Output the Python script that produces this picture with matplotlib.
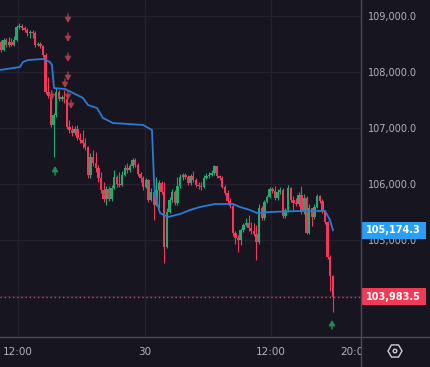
import numpy as np
import matplotlib
matplotlib.use("Agg")
import matplotlib.pyplot as plt
from matplotlib.lines import Line2D
from matplotlib.patches import Rectangle, RegularPolygon, Circle
import matplotlib.transforms as mtrans

BG = '#17151f'
GRID = '#24222d'
AXLINE = '#4b4a55'
TXT = '#b4b4bd'
UP = '#22ab6e'
DOWN = '#f2385a'

# 15 min candles, 29th 10:15 -> 30th 17:45 (hours since 29th 00:00)
first_open = 108536
close = [108393, 108571, 108482, 108536, 108482, 108571, 108804, 108821, 108786, 108750,
         108696, 108714, 108696, 108482, 108500, 108464, 108304, 107643, 107571, 107054,
         107232, 107643, 107518, 107554, 107518, 107018, 106964, 106911, 106982, 106821,
         106786, 106732, 106661, 106161, 106482, 106375, 106286, 106107, 105893, 105732,
         105911, 105732, 105929, 106125, 106000, 105982, 106161, 106286, 106250, 106321,
         106429, 106339, 106179, 106107, 105946, 106071, 105714, 105857, 105625, 105893,
         106018, 105857, 104875, 105500, 105714, 105857, 105661, 105964, 106125, 106161,
         106125, 106018, 106143, 106071, 105982, 105964, 105946, 106107, 106143, 106161,
         106196, 106321, 106143, 106107, 105946, 105839, 105696, 105607, 105125, 105036,
         105000, 105179, 105268, 105304, 105214, 105161, 105107, 104964, 105571, 105393,
         105679, 105768, 105911, 105875, 105750, 105857, 105893, 105429, 105536, 105929,
         105714, 105661, 105643, 105804, 105500, 105750, 105125, 105571, 105411, 105589,
         105786, 105696, 105518, 105321, 104696, 104357, 103983.5]
high = [108571, 108607, 108607, 108625, 108607, 108643, 108839, 108875, 108857, 108821,
        108786, 108750, 108750, 108732, 108536, 108536, 108482, 108339, 107911, 107679,
        107268, 107714, 107679, 107589, 107679, 107536, 107143, 107054, 107036, 107054,
        106911, 106964, 106821, 106679, 106554, 106607, 106571, 106339, 106214, 106036,
        105964, 105964, 105982, 106250, 106161, 106214, 106232, 106339, 106375, 106357,
        106464, 106464, 106375, 106214, 106143, 106107, 106089, 105929, 105893, 106125,
        106071, 106054, 106036, 105571, 105768, 105911, 105893, 106125, 106179, 106196,
        106196, 106161, 106179, 106232, 106107, 106036, 106036, 106161, 106196, 106214,
        106250, 106339, 106321, 106161, 106143, 105982, 105893, 105750, 105661, 105161,
        105089, 105214, 105304, 105393, 105446, 105321, 105304, 105268, 105643, 105607,
        105714, 105804, 105946, 105946, 105964, 105911, 105946, 105929, 105571, 105982,
        105946, 105786, 105750, 105857, 105964, 105821, 105786, 105643, 105571, 105643,
        105821, 105804, 105732, 105536, 105339, 104732, 104375]
low = [108357, 108375, 108446, 108446, 108464, 108464, 108554, 108768, 108750, 108714,
       108643, 108607, 108607, 108446, 108464, 108429, 108268, 107607, 107536, 107018,
       106482, 107196, 107482, 107482, 107446, 106982, 106911, 106857, 106875, 106786,
       106732, 106643, 106607, 106107, 106107, 106321, 106214, 106036, 105839, 105679,
       105625, 105696, 105696, 105911, 105946, 105946, 105964, 106143, 106196, 106214,
       106286, 106304, 106143, 106036, 105893, 105929, 105679, 105696, 105357, 105607,
       105571, 105821, 104589, 104857, 105482, 105679, 105625, 105625, 105929, 106071,
       106089, 105982, 105982, 106036, 105946, 105911, 105893, 105929, 106089, 106107,
       106143, 106161, 106107, 106071, 105929, 105804, 105661, 105571, 105071, 104929,
       104786, 104911, 105143, 105250, 105161, 105107, 105071, 104643, 104929, 105357,
       105357, 105661, 105750, 105839, 105714, 105714, 105821, 105393, 105393, 105500,
       105679, 105536, 105607, 105607, 105464, 105464, 105107, 105107, 105250, 105375,
       105571, 105661, 105482, 105286, 104661, 104089, 103714]
opens = [first_open] + close[:-1]
n = len(close)
t = 10.25 + 0.125 + 0.25 * np.arange(n)

# blue average line
avg_t = [10.29, 12.19, 12.47, 12.95, 14.37, 15.03, 15.22, 15.41, 16.46, 17.22, 18.17,
         18.64, 19.49, 20.06, 21.01, 23.86, 24.71, 24.9, 25.0, 25.47, 26.23, 27.37,
         28.32, 29.27, 30.69, 32.4, 33.06, 34.01, 34.67, 35.91, 38.75, 41.13, 41.6, 41.88]
avg_p = [108036, 108089, 108179, 108214, 108232, 108179, 108125, 107714, 107696, 107625,
         107536, 107411, 107357, 107179, 107089, 107054, 106964, 106071, 105804, 105482,
         105411, 105464, 105536, 105589, 105643, 105643, 105589, 105536, 105482, 105500,
         105518, 105518, 105357, 105174.3]

sell_t = [16.74, 16.74, 16.74, 16.74, 16.46, 16.74, 17.03, 15.22]
sell_p = [108875, 108536, 108179, 107839, 107714, 107500, 107339, 107500]
buy_t = [15.51, 41.79]
buy_p = [106321, 103571]

last_price = 103983.5
avg_last = 105174.3

W, H = 431, 367
AX_R, AX_B = 361, 337
fig = plt.figure(figsize=(W / 100, H / 100), dpi=100, facecolor=BG)
ax = fig.add_axes([0, (H - AX_B) / H, AX_R / W, AX_B / H], facecolor=BG)

ax.set_xlim(10.29, 44.54)
ax.set_ylim(103267.9, 109285.7)

# grid (104,000 sits under the last price tag, so no label there)
ax.set_xticks([12, 24, 36])
ax.set_yticks(range(105000, 109001, 1000))
ax.axhline(104000, color=GRID, lw=1, zorder=0)
ax.grid(True, color=GRID, lw=1)
ax.set_axisbelow(True)
ax.tick_params(axis='x', length=0, labelbottom=False)
ax.yaxis.tick_right()
ax.yaxis.set_major_formatter(plt.FuncFormatter(lambda v, p: f'{v:,.1f}'))
ax.tick_params(axis='y', length=0, pad=5, labelsize=7, labelcolor=TXT)
for s in ax.spines.values():
    s.set_visible(False)

# candles
o = np.array(opens, float)
c = np.array(close, float)
hi = np.array(high, float)
lo = np.array(low, float)
cols = np.where(c >= o, UP, DOWN)
ax.vlines(t, lo, hi, colors=cols, lw=0.8, zorder=3)
body_lo = np.minimum(o, c)
body_h = np.maximum(np.abs(c - o), 15)
ax.bar(t, body_h, bottom=body_lo, width=0.23, color=cols, lw=0, zorder=4)

ax.plot(avg_t, avg_p, color='#2a7bd4', lw=1.3, zorder=5)

ax.axhline(last_price, color=DOWN, lw=1, ls=(0, (1, 2)), zorder=2)

# signal arrows
for xt, yp in zip(sell_t, sell_p):
    ax.annotate('', xy=(xt, yp), xytext=(0, 6.5), textcoords='offset points',
                arrowprops=dict(arrowstyle='-|>,head_length=0.3,head_width=0.18',
                                color='#b0414f', lw=1.1, alpha=0.8, shrinkA=0, shrinkB=0),
                zorder=6)
for xt, yp in zip(buy_t, buy_p):
    ax.annotate('', xy=(xt, yp), xytext=(0, -6.5), textcoords='offset points',
                arrowprops=dict(arrowstyle='-|>,head_length=0.3,head_width=0.18',
                                color='#1f8a55', lw=1.1, shrinkA=0, shrinkB=0),
                zorder=6)

# price tags on the right scale
blend = mtrans.blended_transform_factory(ax.transAxes, ax.transData)
tag_h = 17 / AX_B * (109285.7 - 103267.9)
for price, fc in [(avg_last, '#2a9df4'), (last_price, '#f23a57')]:
    ax.add_patch(Rectangle((1.0, price - tag_h / 2), 65 / AX_R, tag_h, transform=blend,
                           fc=fc, ec='none', clip_on=False, zorder=10))
    ax.text(1.0 + 32.5 / AX_R, price, f'{price:,.1f}', transform=blend, ha='center',
            va='center', color='white', fontsize=7, fontweight='bold', zorder=11,
            clip_on=False)

# time scale
ax_t = fig.add_axes([0, 0, AX_R / W, (H - AX_B) / H], facecolor=BG)
ax_t.set_xlim(ax.get_xlim())
ax_t.set_ylim(0, 1)
ax_t.axis('off')
for xt, lab in [(12, '12:00'), (24, '30'), (36, '12:00'), (44, '20:00')]:
    ax_t.text(xt, 0.5, lab, ha='center', va='center', color=TXT, fontsize=7.5,
              clip_on=True)

# corner settings icon
ax_c = fig.add_axes([AX_R / W, 0, (W - AX_R) / W, (H - AX_B) / H], facecolor=BG)
ax_c.set_xlim(0, W - AX_R)
ax_c.set_ylim(0, H - AX_B)
ax_c.axis('off')
ax_c.add_patch(RegularPolygon((34, 16), 6, radius=7, orientation=np.pi / 6,
                              fc='none', ec='#d0d0d8', lw=1))
ax_c.add_patch(Circle((34, 16), 1.8, fc='none', ec='#d0d0d8', lw=1))

# scale borders
fig.add_artist(Line2D([0, 1], [(H - AX_B) / H] * 2, color=AXLINE, lw=1,
                      transform=fig.transFigure))
fig.add_artist(Line2D([AX_R / W] * 2, [0, 1], color=AXLINE, lw=1,
                      transform=fig.transFigure))

fig.savefig('out.png', dpi=100, facecolor=BG)
